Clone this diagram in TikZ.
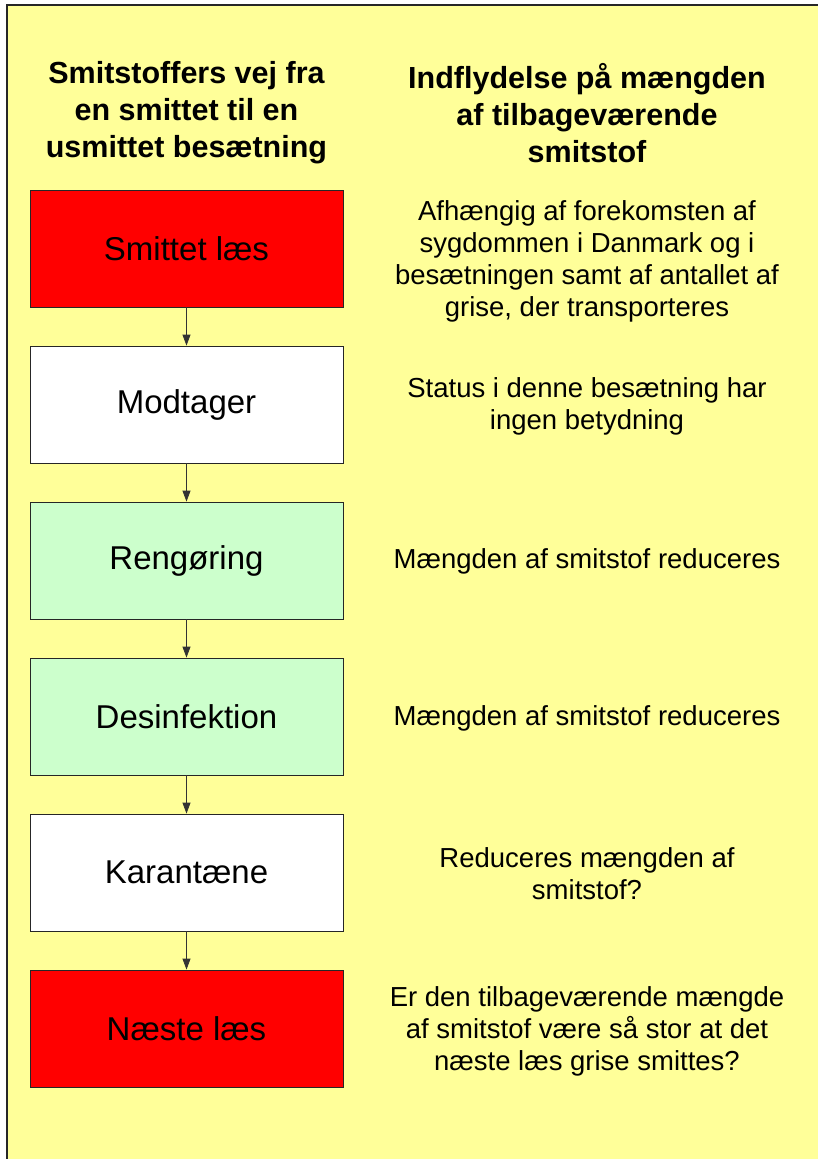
\documentclass[tikz,border=0pt]{standalone}
\usepackage{fontspec}
\setmainfont{Liberation Sans}
\usetikzlibrary{arrows.meta}
\definecolor{panel}{HTML}{FFFF99}
\definecolor{hot}{HTML}{FF0000}
\definecolor{mint}{HTML}{CCFFCC}
\tikzset{
  stage/.style={draw=black!85, line width=0.8pt, minimum width=313pt, minimum height=117pt,
    inner sep=0pt, font=\fontsize{33}{40}\selectfont},
  head/.style={align=center, font=\fontsize{30.5}{37}\selectfont\bfseries},
  note/.style={align=center, font=\fontsize{27.5}{32}\selectfont},
  flow/.style={draw=black!80, line width=0.8pt, -{Triangle[length=11pt,width=8pt]}}
}
\begin{document}
\begin{tikzpicture}[x=1pt,y=-1pt]
  \useasboundingbox (0,0) rectangle (818,1159);
  % page background and frame
  \fill[white] (0,0) rectangle (818,1159);
  \fill[panel] (7,5) rectangle (818,1159);
  \draw[line width=1.4pt, black!85] (7,1160) -- (7,5) -- (819,5);

  % column headings
  \node[head] (hl) at (186.5,113) {Smitstoffers vej fra\\en smittet til en\\usmittet besætning};
  \node[head] (hr) at (587,113) {Indflydelse på mængden\\af tilbageværende\\smitstof};

  % stages
  \node[stage, fill=hot]   (s1) at (186.5,248.5)  {Smittet læs};
  \node[stage, fill=white] (s2) at (186.5,404.5)  {Modtager};
  \node[stage, fill=mint]  (s3) at (186.5,560.5)  {Rengøring};
  \node[stage, fill=mint]  (s4) at (186.5,716.5)  {Desinfektion};
  \node[stage, fill=white] (s5) at (186.5,872.5)  {Karantæne};
  \node[stage, fill=hot]   (s6) at (186.5,1028.5) {Næste læs};

  \foreach \a/\b in {s1/s2,s2/s3,s3/s4,s4/s5,s5/s6}
    \draw[flow] (\a.south) -- (\b.north);

  % effect on the remaining amount
  \node[note] (n1) at (587,261) {Afhængig af forekomsten af\\sygdommen i Danmark og i\\besætningen samt af antallet af\\grise, der transporteres};
  \node[note] (n2) at (587,406) {Status i denne besætning har\\ingen betydning};
  \node[note] (n3) at (587,561) {Mængden af smitstof reduceres};
  \node[note] (n4) at (587,718) {Mængden af smitstof reduceres};
  \node[note] (n5) at (587,874) {Reduceres mængden af\\smitstof?};
  \node[note] (n6) at (587,1031) {Er den tilbageværende mængde\\af smitstof være så stor at det\\næste læs grise smittes?};
\end{tikzpicture}
\end{document}
